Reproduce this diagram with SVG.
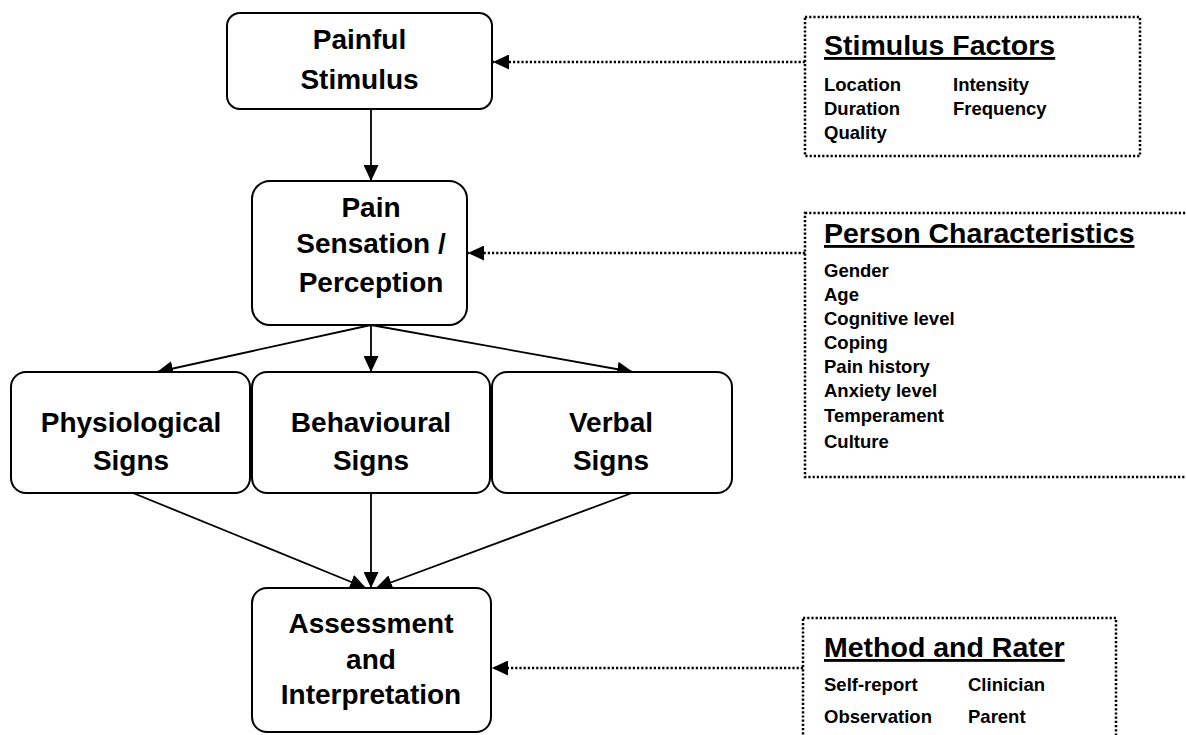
<svg xmlns="http://www.w3.org/2000/svg" width="1186" height="735" viewBox="0 0 1186 735">
<style>
.node rect{fill:#fff;stroke:#000;stroke-width:2}
.nt{font-family:"Liberation Sans",Arial,sans-serif;font-weight:bold;font-size:28px;text-anchor:middle;fill:#000}
.box rect{fill:#fff;stroke:#000;stroke-width:2.5;stroke-dasharray:2.2 2}
.ttl{font-family:"Liberation Sans",Arial,sans-serif;font-weight:bold;font-size:28.5px;text-decoration:underline;fill:#000}
.it{font-family:"Liberation Sans",Arial,sans-serif;font-weight:bold;font-size:18.5px;fill:#000}
.ln{stroke:#000;stroke-width:1.8;fill:none;marker-end:url(#ah)}
.dl{stroke:#000;stroke-width:2.5;stroke-dasharray:2.2 2;fill:none;marker-end:url(#ah)}
</style>
<defs>
<marker id="ah" markerUnits="userSpaceOnUse" markerWidth="16" markerHeight="15" refX="16" refY="7.5" orient="auto">
<path d="M0,0 L16,7.5 L0,15 z" fill="#000"/>
</marker>
</defs>
<rect width="1186" height="735" fill="#fff"/>
<g id="connectors">
<line class="ln" x1="371" y1="109" x2="371" y2="181"/>
<line class="ln" x1="371" y1="325" x2="157" y2="372"/>
<line class="ln" x1="371" y1="325" x2="371" y2="372"/>
<line class="ln" x1="371" y1="325" x2="633" y2="372"/>
<line class="ln" x1="133" y1="493" x2="366" y2="588"/>
<line class="ln" x1="371" y1="493" x2="371" y2="588"/>
<line class="ln" x1="632" y1="493" x2="376" y2="588"/>
<line class="dl" x1="805" y1="62" x2="493" y2="62"/>
<line class="dl" x1="805" y1="253" x2="468" y2="253"/>
<line class="dl" x1="803" y1="668" x2="492" y2="668"/>
</g>
<g id="painful-stimulus" class="node">
<rect x="227" y="13" width="265" height="96" rx="13"/>
<text class="nt" font-size="29" x="359.5" y="49">Painful</text>
<text class="nt" font-size="29" x="359.5" y="89">Stimulus</text>
</g>
<g id="pain-sensation" class="node">
<rect x="252" y="181" width="215" height="144" rx="18"/>
<text class="nt" x="371" y="217">Pain</text>
<text class="nt" x="371" y="253">Sensation /</text>
<text class="nt" x="371" y="292">Perception</text>
</g>
<g id="physiological" class="node">
<rect x="11" y="372" width="239" height="121" rx="15"/>
<text class="nt" x="131" y="432">Physiological</text>
<text class="nt" x="131" y="470">Signs</text>
</g>
<g id="behavioural" class="node">
<rect x="252" y="372" width="238" height="121" rx="15"/>
<text class="nt" x="371" y="432">Behavioural</text>
<text class="nt" x="371" y="470">Signs</text>
</g>
<g id="verbal" class="node">
<rect x="492" y="372" width="240" height="121" rx="15"/>
<text class="nt" x="611" y="432">Verbal</text>
<text class="nt" x="611" y="470">Signs</text>
</g>
<g id="assessment" class="node">
<rect x="252" y="588" width="239" height="144" rx="15"/>
<text class="nt" x="371" y="633">Assessment</text>
<text class="nt" x="371" y="669">and</text>
<text class="nt" x="371" y="704">Interpretation</text>
</g>
<g id="stimulus-factors" class="box">
<rect x="805" y="17" width="335" height="139"/>
<text class="ttl" x="824" y="55">Stimulus Factors</text>
<text class="it" x="824" y="91">Location</text>
<text class="it" x="824" y="115">Duration</text>
<text class="it" x="824" y="139">Quality</text>
<text class="it" x="953" y="91">Intensity</text>
<text class="it" x="953" y="115">Frequency</text>
</g>
<g id="person-characteristics" class="box">
<rect x="805" y="213" width="400" height="264"/>
<text class="ttl" x="824" y="243">Person Characteristics</text>
<text class="it" x="824" y="277">Gender</text>
<text class="it" x="824" y="301">Age</text>
<text class="it" x="824" y="325">Cognitive level</text>
<text class="it" x="824" y="349">Coping</text>
<text class="it" x="824" y="373">Pain history</text>
<text class="it" x="824" y="397">Anxiety level</text>
<text class="it" x="824" y="422">Temperament</text>
<text class="it" x="824" y="448">Culture</text>
</g>
<g id="method-rater" class="box">
<rect x="803" y="618" width="313" height="140"/>
<text class="ttl" x="824" y="657">Method and Rater</text>
<text class="it" x="824" y="691">Self-report</text>
<text class="it" x="968" y="691">Clinician</text>
<text class="it" x="824" y="723">Observation</text>
<text class="it" x="968" y="723">Parent</text>
</g>
</svg>
